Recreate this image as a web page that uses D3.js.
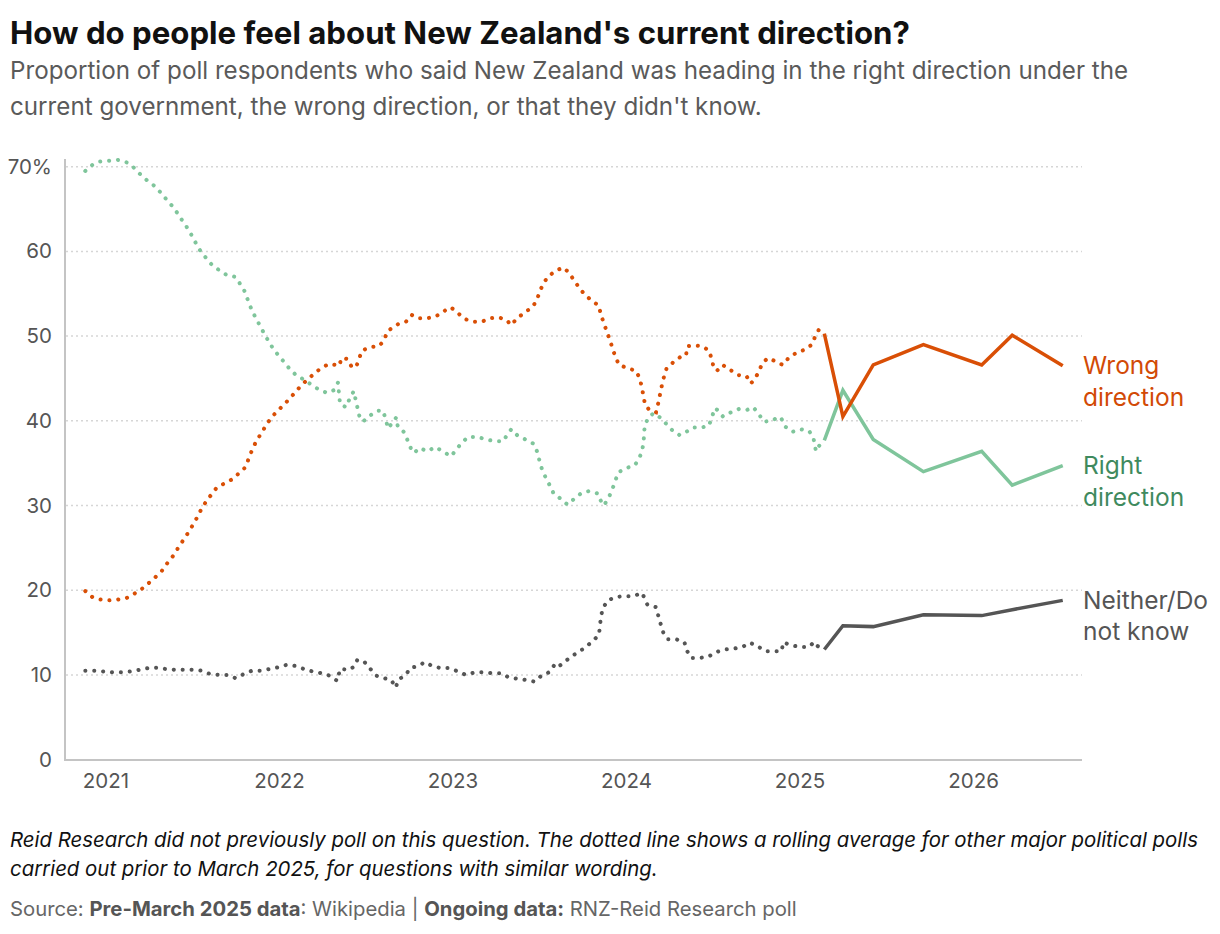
<!DOCTYPE html>
<html>
<head>
<meta charset="utf-8">
<script src="https://cdn.jsdelivr.net/npm/d3@7"></script>
<style>
  body { margin: 0; background: #fff; font-family: Inter, "Noto Sans", sans-serif; }
  svg text { font-family: Inter, "Noto Sans", sans-serif; }
</style>
</head>
<body>
<script>
// pre-March 2025 rolling average (dotted), [decimal year, %]
var rightPre = [[2020.884,69.5],[2020.924,70.2],[2020.968,70.6],[2021.022,70.7],[2021.072,70.8],[2021.124,70.5],[2021.163,69.9],[2021.201,69.1],[2021.239,68.4],[2021.278,67.8],[2021.316,67.0],[2021.349,66.2],[2021.383,65.4],[2021.412,64.6],[2021.441,63.7],[2021.471,62.8],[2021.497,61.9],[2021.523,60.9],[2021.549,60.0],[2021.581,59.2],[2021.614,58.4],[2021.654,57.8],[2021.700,57.2],[2021.748,57.0],[2021.775,56.2],[2021.802,55.3],[2021.820,54.3],[2021.839,53.3],[2021.862,52.3],[2021.886,51.4],[2021.912,50.4],[2021.937,49.5],[2021.964,48.6],[2021.994,47.8],[2022.027,47.0],[2022.059,46.2],[2022.098,45.4],[2022.140,44.9],[2022.184,44.3],[2022.229,43.7],[2022.277,43.3],[2022.315,43.6],[2022.340,44.5],[2022.352,42.0],[2022.386,41.6],[2022.405,42.5],[2022.431,43.5],[2022.463,40.6],[2022.484,39.9],[2022.523,40.6],[2022.567,41.2],[2022.599,41.2],[2022.617,40.1],[2022.628,39.1],[2022.655,39.8],[2022.676,40.4],[2022.685,39.3],[2022.719,38.7],[2022.739,37.8],[2022.759,36.8],[2022.778,36.2],[2022.811,36.8],[2022.855,36.4],[2022.901,36.9],[2022.944,36.4],[2022.991,35.8],[2023.022,36.6],[2023.053,37.4],[2023.091,38.1],[2023.143,38.1],[2023.193,37.8],[2023.243,37.6],[2023.294,37.6],[2023.316,38.4],[2023.339,39.0],[2023.373,38.3],[2023.420,37.8],[2023.467,37.3],[2023.487,36.4],[2023.500,35.4],[2023.514,34.4],[2023.535,33.4],[2023.560,32.4],[2023.581,31.5],[2023.593,31.4],[2023.631,30.6],[2023.664,30.1],[2023.702,30.8],[2023.745,31.5],[2023.788,31.7],[2023.840,31.4],[2023.856,30.5],[2023.873,30.0],[2023.902,31.0],[2023.921,31.9],[2023.938,32.9],[2023.956,33.9],[2023.998,34.4],[2024.048,34.7],[2024.073,35.4],[2024.092,36.4],[2024.102,37.5],[2024.104,38.6],[2024.110,39.6],[2024.134,40.5],[2024.160,40.9],[2024.202,40.3],[2024.238,39.5],[2024.275,38.7],[2024.310,38.3],[2024.348,38.7],[2024.382,39.2],[2024.434,39.2],[2024.478,39.4],[2024.496,40.5],[2024.513,41.5],[2024.532,41.2],[2024.559,40.5],[2024.605,41.0],[2024.651,41.4],[2024.699,41.3],[2024.734,41.6],[2024.765,40.8],[2024.795,39.9],[2024.841,40.0],[2024.882,40.5],[2024.897,40.2],[2024.918,39.3],[2024.959,38.7],[2025.009,39.0],[2025.055,38.8],[2025.080,38.0],[2025.095,36.4],[2025.118,37.2],[2025.143,37.7]];

var wrongPre = [[2020.884,19.9],[2020.924,19.2],[2020.968,18.9],[2021.022,18.8],[2021.072,18.9],[2021.124,19.1],[2021.168,19.6],[2021.212,20.2],[2021.253,20.9],[2021.291,21.6],[2021.326,22.3],[2021.357,23.2],[2021.388,24.0],[2021.416,24.9],[2021.445,25.8],[2021.474,26.7],[2021.501,27.6],[2021.526,28.5],[2021.551,29.5],[2021.578,30.4],[2021.607,31.2],[2021.641,32.1],[2021.685,32.6],[2021.731,33.1],[2021.769,33.8],[2021.806,34.5],[2021.825,35.5],[2021.844,36.5],[2021.867,37.5],[2021.894,38.4],[2021.921,39.3],[2021.950,40.2],[2021.983,41.0],[2022.019,41.7],[2022.056,42.5],[2022.091,43.3],[2022.125,44.1],[2022.160,44.8],[2022.200,45.5],[2022.241,46.2],[2022.287,46.7],[2022.325,46.6],[2022.348,46.5],[2022.360,47.4],[2022.395,47.3],[2022.418,46.4],[2022.444,46.3],[2022.461,47.3],[2022.479,48.3],[2022.527,48.7],[2022.576,48.8],[2022.606,49.5],[2022.623,50.5],[2022.653,51.0],[2022.686,51.4],[2022.732,51.7],[2022.765,52.5],[2022.803,52.1],[2022.851,52.1],[2022.903,52.3],[2022.947,52.9],[2022.991,53.4],[2023.032,52.7],[2023.074,52.0],[2023.120,51.7],[2023.169,51.7],[2023.216,52.1],[2023.268,52.2],[2023.313,51.9],[2023.337,51.3],[2023.373,52.1],[2023.416,52.8],[2023.460,53.4],[2023.485,54.2],[2023.502,55.2],[2023.523,56.2],[2023.550,57.0],[2023.593,57.7],[2023.639,58.1],[2023.671,57.5],[2023.700,56.6],[2023.731,55.7],[2023.762,54.9],[2023.802,54.2],[2023.843,53.6],[2023.856,52.5],[2023.873,51.5],[2023.890,50.5],[2023.908,49.5],[2023.923,48.5],[2023.940,47.5],[2023.960,46.6],[2024.010,46.2],[2024.058,45.9],[2024.079,45.0],[2024.091,44.0],[2024.100,43.0],[2024.110,41.9],[2024.138,41.2],[2024.173,41.0],[2024.186,42.1],[2024.196,43.1],[2024.207,44.2],[2024.219,45.2],[2024.234,46.2],[2024.272,46.9],[2024.311,47.5],[2024.346,47.7],[2024.353,48.8],[2024.388,48.9],[2024.438,48.8],[2024.478,48.3],[2024.494,47.3],[2024.505,46.3],[2024.524,45.9],[2024.557,46.6],[2024.601,46.0],[2024.646,45.4],[2024.694,45.3],[2024.719,44.4],[2024.742,44.9],[2024.765,45.8],[2024.786,46.8],[2024.817,47.4],[2024.865,47.0],[2024.903,46.6],[2024.936,47.4],[2024.980,48.0],[2025.030,48.4],[2025.072,49.0],[2025.089,49.9],[2025.110,50.7],[2025.118,50.8]];

var neitherPre = [[2020.884,10.5],[2020.938,10.5],[2020.990,10.4],[2021.042,10.3],[2021.094,10.3],[2021.144,10.4],[2021.195,10.6],[2021.245,10.8],[2021.297,10.85],[2021.347,10.7],[2021.399,10.6],[2021.451,10.6],[2021.503,10.6],[2021.555,10.5],[2021.604,10.1],[2021.654,10.0],[2021.706,10.0],[2021.752,9.6],[2021.797,10.1],[2021.845,10.5],[2021.897,10.5],[2021.946,10.7],[2021.996,10.9],[2022.046,11.2],[2022.096,11.05],[2022.144,10.7],[2022.194,10.4],[2022.246,10.2],[2022.294,9.9],[2022.336,9.3],[2022.352,10.7],[2022.405,10.6],[2022.434,11.0],[2022.452,11.8],[2022.494,11.5],[2022.527,10.7],[2022.563,9.9],[2022.609,9.6],[2022.647,9.4],[2022.674,8.5],[2022.686,9.4],[2022.730,10.0],[2022.759,10.85],[2022.797,11.0],[2022.841,11.5],[2022.884,11.05],[2022.932,10.8],[2022.984,10.8],[2023.032,10.4],[2023.078,10.0],[2023.128,10.3],[2023.180,10.3],[2023.229,10.2],[2023.281,10.2],[2023.324,9.7],[2023.373,9.55],[2023.424,9.4],[2023.474,9.2],[2023.512,9.9],[2023.556,10.3],[2023.585,11.1],[2023.600,10.8],[2023.644,11.5],[2023.683,12.15],[2023.727,12.7],[2023.769,13.3],[2023.808,14.0],[2023.844,14.7],[2023.856,16.9],[2023.867,17.9],[2023.896,18.8],[2023.942,19.2],[2023.994,19.3],[2024.046,19.3],[2024.090,19.7],[2024.104,19.2],[2024.123,18.3],[2024.173,18.0],[2024.186,17.0],[2024.200,16.0],[2024.215,15.0],[2024.241,14.2],[2024.290,14.2],[2024.337,13.85],[2024.350,12.9],[2024.375,12.0],[2024.423,12.0],[2024.474,12.15],[2024.521,12.7],[2024.569,13.0],[2024.621,13.1],[2024.671,13.3],[2024.715,13.8],[2024.757,13.4],[2024.803,12.8],[2024.850,12.8],[2024.897,12.8],[2024.906,13.85],[2024.951,13.5],[2025.003,13.3],[2025.055,13.3],[2025.085,13.9],[2025.102,13.45],[2025.136,12.9]];

// RNZ-Reid Research poll (solid)
var pollDates   = [2025.143, 2025.250, 2025.425, 2025.714, 2026.050, 2026.226, 2026.517];
var rightPoll   = [37.7, 43.6, 37.8, 34.0, 36.4, 32.4, 34.7];
var wrongPoll   = [50.3, 40.5, 46.6, 49.0, 46.6, 50.1, 46.5];
var neitherPoll = [13.0, 15.8, 15.7, 17.1, 17.0, 17.7, 18.8];

var yTicks = [0, 10, 20, 30, 40, 50, 60, 70];
var xTicks = [2021, 2022, 2023, 2024, 2025, 2026];

var series = [
  { name: ["Wrong", "direction"], pre: wrongPre, poll: wrongPoll, line: "#d94f06", text: "#d24a06" },
  { name: ["Right", "direction"], pre: rightPre, poll: rightPoll, line: "#7fc59b", text: "#3f8a5e" },
  { name: ["Neither/Do", "not know"], pre: neitherPre, poll: neitherPoll, line: "#555555", text: "#555555" }
];

var width = 1220, height = 934;
var svg = d3.select("body").append("svg").attr("width", width).attr("height", height);

// titles
svg.append("text").attr("x", 10).attr("y", 44).attr("font-size", 31.2).attr("font-weight", 700)
  .attr("fill", "#111").text("How do people feel about New Zealand's current direction?");
svg.append("text").attr("x", 10).attr("y", 79).attr("font-size", 24.2).attr("fill", "#5a5a5a")
  .text("Proportion of poll respondents who said New Zealand was heading in the right direction under the");
svg.append("text").attr("x", 10).attr("y", 115).attr("font-size", 24.2).attr("fill", "#5a5a5a")
  .text("current government, the wrong direction, or that they didn't know.");

var x = d3.scaleLinear().domain([2020.767, 2026.628]).range([65, 1082]);
var y = d3.scaleLinear().domain([0, 70]).range([759.6, 166.7]);

// gridlines
svg.append("g").selectAll("line").data(yTicks.slice(1)).enter().append("line")
  .attr("x1", 66).attr("x2", 1082)
  .attr("y1", function (d) { return y(d); }).attr("y2", function (d) { return y(d); })
  .attr("stroke", "#d6d6d6").attr("stroke-width", 1.5).attr("stroke-dasharray", "2,3");

// y axis
var yAxis = svg.append("g").attr("transform", "translate(65,0)")
  .call(d3.axisLeft(y).tickValues(yTicks).tickSize(0).tickPadding(13)
    .tickFormat(function (d) { return d == 70 ? "70%" : d; }));
yAxis.select(".domain").remove();
yAxis.selectAll("text").attr("font-size", 20.5).attr("fill", "#555").attr("font-family", null);
svg.append("line").attr("x1", 65).attr("x2", 65).attr("y1", 159).attr("y2", 760)
  .attr("stroke", "#c4c4c4").attr("stroke-width", 2);

// x axis
var xAxis = svg.append("g").attr("transform", "translate(0,760)")
  .call(d3.axisBottom(x).tickValues(xTicks).tickSize(0).tickPadding(13).tickFormat(d3.format("d")));
xAxis.select(".domain").remove();
xAxis.selectAll("text").attr("font-size", 20.5).attr("fill", "#555").attr("font-family", null);
svg.append("line").attr("x1", 64).attr("x2", 1082).attr("y1", 760).attr("y2", 760)
  .attr("stroke", "#c4c4c4").attr("stroke-width", 2);

var line = d3.line().x(function (d) { return x(d[0]); }).y(function (d) { return y(d[1]); });

// dotted rolling averages, green first so orange sits on top
[series[1], series[2], series[0]].forEach(function (s) {
  svg.append("path").datum(s.pre).attr("d", line).attr("fill", "none")
    .attr("stroke", s.line).attr("stroke-width", 4).attr("stroke-linecap", "round")
    .attr("stroke-dasharray", "0.1,8.8");
});

// solid poll lines + end labels
[series[1], series[2], series[0]].forEach(function (s) {
  var pts = pollDates.map(function (d, i) { return [d, s.poll[i]]; });
  svg.append("path").datum(pts).attr("d", line).attr("fill", "none")
    .attr("stroke", s.line).attr("stroke-width", 3.5).attr("stroke-linejoin", "miter");
  var last = pts[pts.length - 1];
  var lab = svg.append("text").attr("x", 1083).attr("y", y(last[1]) + 8.5)
    .attr("font-size", 24.5).attr("fill", s.text);
  lab.append("tspan").attr("x", 1083).text(s.name[0]);
  lab.append("tspan").attr("x", 1083).attr("dy", 31.5).text(s.name[1]);
});

// notes
svg.append("text").attr("x", 10).attr("y", 847).attr("font-size", 20.4).attr("font-style", "italic")
  .attr("fill", "#111")
  .text("Reid Research did not previously poll on this question. The dotted line shows a rolling average for other major political polls");
svg.append("text").attr("x", 10).attr("y", 876).attr("font-size", 20.4).attr("font-style", "italic")
  .attr("fill", "#111").text("carried out prior to March 2025, for questions with similar wording.");

var src = svg.append("text").attr("x", 10).attr("y", 916).attr("font-size", 20.3).attr("fill", "#666");
src.append("tspan").text("Source: ");
src.append("tspan").attr("font-weight", 700).attr("fill", "#555").text("Pre-March 2025 data");
src.append("tspan").text(": Wikipedia | ");
src.append("tspan").attr("font-weight", 700).attr("fill", "#555").text("Ongoing data:");
src.append("tspan").text(" RNZ-Reid Research poll");
</script>
</body>
</html>
